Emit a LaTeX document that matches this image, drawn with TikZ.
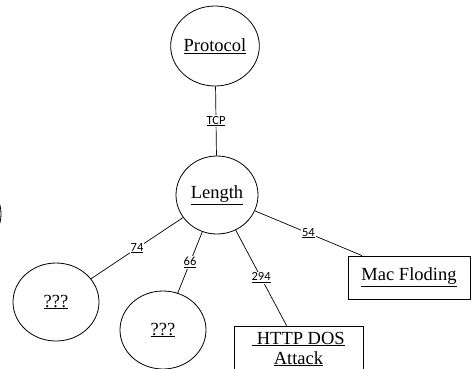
\documentclass[tikz,border=0pt]{standalone}
\usepackage{fontspec}
\setmainfont{Liberation Serif}
\newfontfamily\lblfont{Carlito}
\usetikzlibrary{shapes.geometric}
\tikzset{
  oval/.style={draw, ellipse, inner sep=0pt, line width=0.8pt, font=\fontsize{18.5}{21}\selectfont},
  boxnode/.style={draw, rectangle, inner sep=0pt, line width=0.8pt, font=\fontsize{18.5}{20}\selectfont, align=center},
  edge/.style={line width=0.7pt},
  elabel/.style={fill=white, inner sep=1pt, font=\lblfont\fontsize{12.5}{13}\selectfont}
}
\begin{document}
\begin{tikzpicture}[x=1pt, y=-1pt]
\useasboundingbox (0,0) rectangle (471,368);
\clip (0,0) rectangle (471,368);
\fill[white] (0,0) rectangle (471,368);
\node[oval, minimum width=86pt, minimum height=80pt] (protocol) at (215,46) {\underline{Protocol}};
\node[oval, minimum width=82pt, minimum height=78pt] (length) at (217,195) {\underline{Length}};
\node[oval, minimum width=86pt, minimum height=78pt] (q1) at (56,302) {\underline{???}};
\node[oval, minimum width=86pt, minimum height=78pt] (q2) at (163,330) {\underline{???}};
\node[oval, minimum width=84pt, minimum height=78pt] (offl) at (-41,214) {};
\node[boxnode, minimum width=129pt, minimum height=46pt] (http) at (298.5,349) {\underline{\ HTTP DOS}\\\underline{Attack}};
\node[boxnode, minimum width=122pt, minimum height=43pt] (mac) at (409,277.5) {\underline{Mac Floding}};
\draw[edge] (protocol) -- node[elabel] {\underline{TCP}} (length);
\draw[edge] (length) -- node[elabel] {\underline{74}} (q1);
\draw[edge] (length) -- node[elabel] {\underline{66}} (q2);
\draw[edge] (length) -- node[elabel] {\underline{294}} (http.117);
\draw[edge] (length) -- node[elabel] {\underline{54}} (mac.155);
\end{tikzpicture}
\end{document}
